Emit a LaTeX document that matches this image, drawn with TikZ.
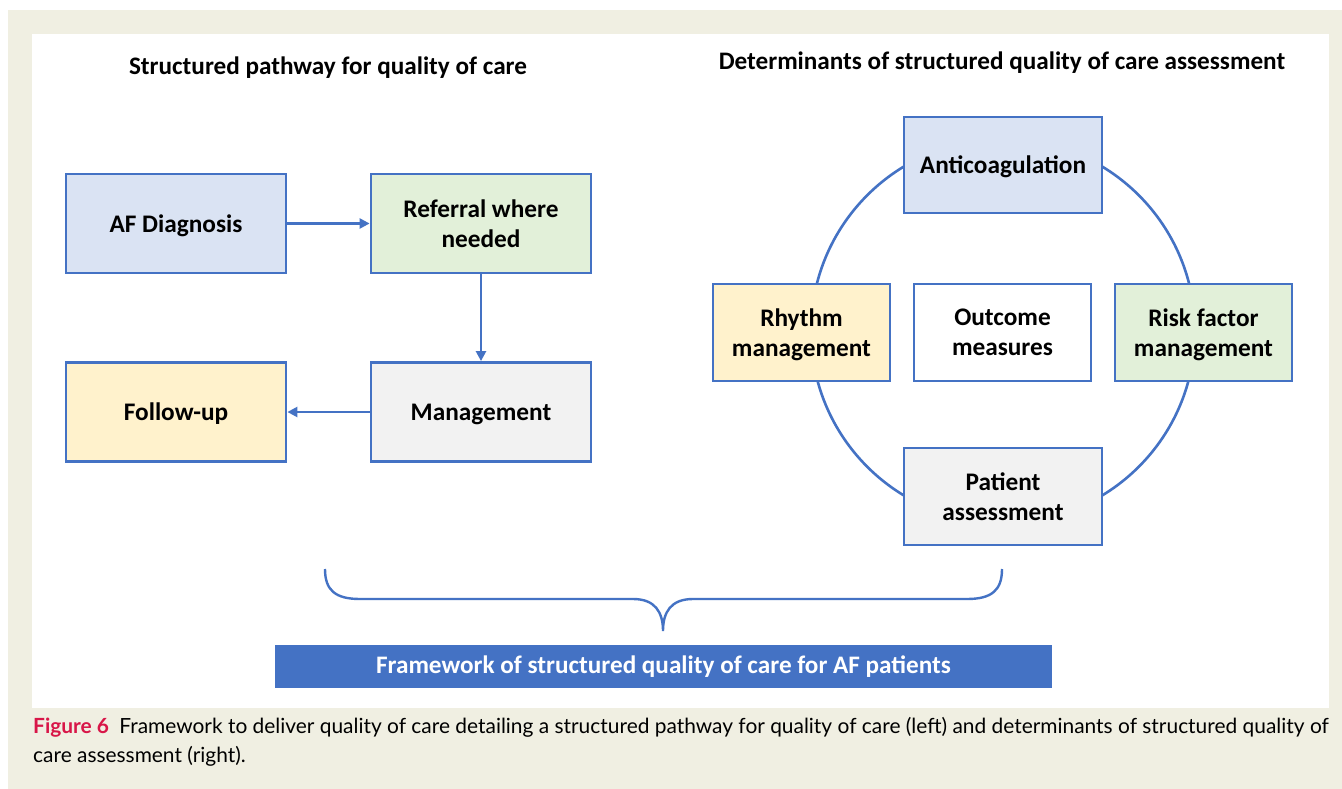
\documentclass[tikz,border=0pt]{standalone}
\usepackage{fontspec}
\setmainfont{Carlito}
\newfontfamily\capfont{Lato}
\usetikzlibrary{arrows.meta}
\definecolor{edgeblue}{HTML}{4472C4}
\definecolor{fillblue}{HTML}{DAE3F3}
\definecolor{fillgreen}{HTML}{E2F0D9}
\definecolor{fillgrey}{HTML}{F2F2F2}
\definecolor{fillyellow}{HTML}{FFF2CC}
\definecolor{panel}{RGB}{240,239,226}
\definecolor{figred}{RGB}{216,22,72}

\begin{document}
\begin{tikzpicture}[x=1pt,y=-1pt,
        box/.style={draw=edgeblue,line width=2.8pt,align=center,text depth=0pt,
          font=\fontsize{25.3}{30}\selectfont\bfseries},
        pathbox/.style={box,minimum width=220pt,minimum height=99pt},
        ringbox/.style={box,minimum width=177pt,minimum height=97pt},
        headline/.style={font=\fontsize{25.2}{29}\selectfont\bfseries},
        link/.style={draw=edgeblue,line width=2.4pt,-{Stealth[length=10pt,width=10pt,inset=0pt]}}]
    \useasboundingbox (0,0) rectangle (1342,789);
    \fill[white] (0,0) rectangle (1342,789);
    \fill[panel] (8,10) rectangle (1342,789);
    \fill[white] (32,34) rectangle (1329,708);

    \node[headline] (lefttitle) at (328,68) {Structured pathway for quality of care};
    \node[headline] (righttitle) at (1002,63) {Determinants of structured quality of care assessment};

    \node[pathbox,fill=fillblue] (diag) at (176,223.5) {AF Diagnosis};
    \node[pathbox,fill=fillgreen] (refer) at (481,223.5) {Referral where\\needed};
    \node[pathbox,fill=fillgrey] (manage) at (481,412) {Management};
    \node[pathbox,fill=fillyellow] (follow) at (176,412) {Follow-up};
    \draw[link] (diag) -- (refer);
    \draw[link] (refer) -- (manage);
    \draw[link] (manage) -- (follow);

    \coordinate (hub) at (1003,331);
    \draw[edgeblue,line width=2.6pt] (hub) circle[radius=192];
    \node[box,fill=fillblue,minimum width=198pt,minimum height=96pt] (anti) at (1003,165) {Anticoagulation};
    \node[ringbox,fill=fillyellow] (rhythm) at (801.5,332.5) {Rhythm\\management};
    \node[ringbox,fill=white] (outcome) at (1002.5,332.5) {Outcome\\measures};
    \node[ringbox,fill=fillgreen] (risk) at (1203.5,332.5) {Risk factor\\management};
    \node[box,fill=fillgrey,minimum width=198pt,minimum height=97pt] (patient) at (1003,496.5) {Patient\\assessment};

    \coordinate (braceL) at (325,569);
    \coordinate (braceR) at (1002,569);
    \coordinate (braceTip) at (663,631);
    \draw[edgeblue,line width=2.4pt] (braceL) .. controls (325,590) and (335,599) .. (360,599)
        -- (633,599) .. controls (655,599) and (663,612) .. (braceTip)
        .. controls (663,612) and (671,599) .. (693,599)
        -- (967,599) .. controls (992,599) and (1002,590) .. (braceR);

    \node[fill=edgeblue,text=white,minimum width=777pt,minimum height=43pt,inner sep=0pt,
      font=\fontsize{25.2}{29}\selectfont\bfseries] (frame) at (663.5,666.5)
      {Framework of structured quality of care for AF patients};

    \node[anchor=north west,inner sep=0pt,align=left,
      font=\capfont\fontsize{20.9}{29}\selectfont] (caption) at (33,717)
      {\textcolor{figred}{\bfseries Figure 6}\hspace{0.5em}Framework to deliver quality of care detailing a structured pathway for quality of care (left) and determinants of structured quality of\\care assessment (right).};
\end{tikzpicture}
\end{document}
